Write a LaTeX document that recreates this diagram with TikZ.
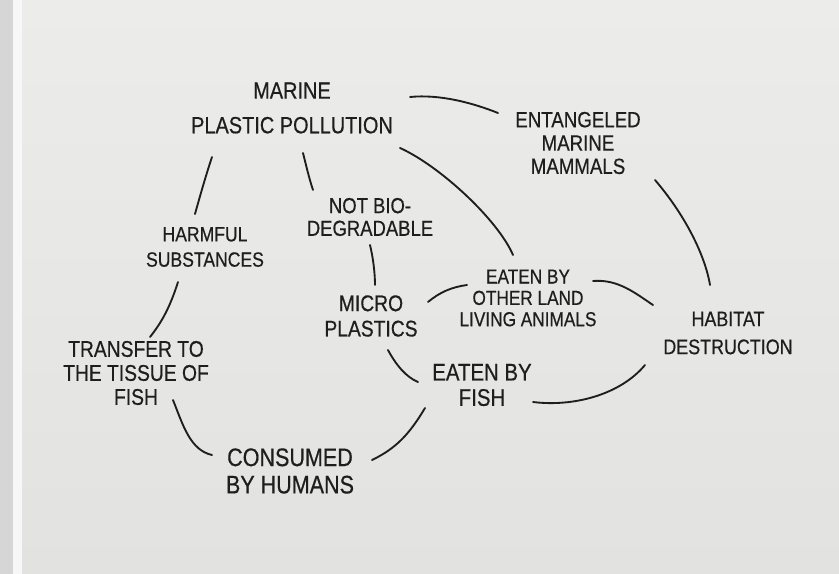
\documentclass[tikz,border=0pt]{standalone}
\usepackage{fontspec}
\newfontfamily\hand[FakeStretch=0.85,FakeBold=0.5]{Liberation Sans}
\usetikzlibrary{calc}
\definecolor{inkc}{HTML}{1E1E1E}
\definecolor{papertop}{HTML}{ECECEA}
\definecolor{paperbot}{HTML}{E2E2E0}
\definecolor{stripc}{HTML}{D6D6D6}
\newcommand{\fs}[2]{\hand\fontsize{#1}{#2}\selectfont}
\tikzset{
  ink/.style={draw=inkc, line width=1.4pt, line cap=round},
  lbl/.style={text=inkc, align=center, inner sep=0pt},
}
\begin{document}
\begin{tikzpicture}[x=0.75pt,y=-0.75pt]
\useasboundingbox (0,0) rectangle (839,574);
\shade[top color=papertop,bottom color=paperbot] (22,0) rectangle (839,574);
\fill[stripc] (0,0) rectangle (13,574);
\fill[white!97!black] (13,0) rectangle (22,574);

\node[lbl,font=\fs{17.6}{26}] (mpp) at (292,108) {MARINE\\PLASTIC POLLUTION};
\node[lbl,font=\fs{16.5}{17.5}] (ent) at (578,143) {ENTANGELED\\MARINE\\MAMMALS};
\node[lbl,font=\fs{16.3}{17}] (bio) at (370,217) {NOT BIO-\\DEGRADABLE};
\node[lbl,font=\fs{15.5}{19}] (harm) at (205,247) {HARMFUL\\SUBSTANCES};
\node[lbl,font=\fs{17}{19}] (micro) at (371,316) {MICRO\\PLASTICS};
\node[lbl,font=\fs{15.2}{16}] (land) at (528,298) {EATEN BY\\OTHER LAND\\LIVING ANIMALS};
\node[lbl,font=\fs{15.8}{21}] (hab) at (728,333) {HABITAT\\DESTRUCTION};
\node[lbl,font=\fs{17}{18}] (trans) at (136,373) {TRANSFER TO\\THE TISSUE OF\\FISH};
\node[lbl,font=\fs{18}{19}] (fish) at (482,385) {EATEN BY\\FISH};
\node[lbl,font=\fs{19}{20.5}] (cons) at (290,471) {CONSUMED\\BY HUMANS};

% connectors
\draw[ink] ([shift={(118,-11)}]mpp.center) .. controls +(30,-3) and +(-25,-10) .. ([shift={(-80,-30)}]ent.center);
\draw[ink] ([shift={(108,40)}]mpp.center) .. controls +(40,18) and +(-15,-35) .. ([shift={(-15,-43)}]land.center);
\draw[ink] ([shift={(11,45)}]mpp.center) .. controls +(3,12) and +(-4,-12) .. ([shift={(-57,-27)}]bio.center);
\draw[ink] ([shift={(-80,49)}]mpp.center) .. controls +(-6,18) and +(5,-18) .. ([shift={(-10,-33)}]harm.center);
\draw[ink] ([shift={(77,37)}]ent.center) .. controls +(30,35) and +(-5,-30) .. ([shift={(-18,-48)}]hab.center);
\draw[ink] ([shift={(0,28)}]bio.center) .. controls +(3,12) and +(0,-12) .. ([shift={(4,-31)}]micro.center);
\draw[ink] ([shift={(-27,35)}]harm.center) .. controls +(-8,25) and +(12,-15) .. ([shift={(14,-36)}]trans.center);
\draw[ink] ([shift={(57,-14)}]micro.center) .. controls +(12,-10) and +(-15,2) .. ([shift={(-61,-13)}]land.center);
\draw[ink] ([shift={(65,-17)}]land.center) .. controls +(25,-2) and +(-18,-12) .. ([shift={(-75,-28)}]hab.center);
\draw[ink] ([shift={(17,34)}]micro.center) .. controls +(8,15) and +(-12,-5) .. ([shift={(-64,-3)}]fish.center);
\draw[ink] ([shift={(-83,32)}]hab.center) .. controls +(-25,30) and +(40,5) .. ([shift={(51,17)}]fish.center);
\draw[ink] ([shift={(-57,23)}]fish.center) .. controls +(-15,25) and +(25,-12) .. ([shift={(82,-11)}]cons.center);
\draw[ink] ([shift={(37,27)}]trans.center) .. controls +(10,25) and +(-22,-5) .. ([shift={(-78,-16)}]cons.center);
\end{tikzpicture}
\end{document}
